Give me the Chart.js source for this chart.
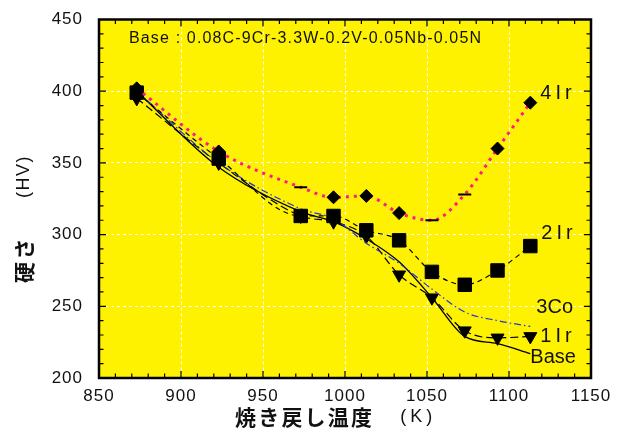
<!DOCTYPE html>
<html>
<head>
  <meta charset="utf-8">
  <title>焼き戻し温度と硬さ</title>
  <script src="https://cdn.jsdelivr.net/npm/chart.js"></script>
  <style>
    body { margin: 0; background: #fff; }
    canvas { display: block; }
  </style>
</head>
<body>
  <canvas id="hvChart" width="626" height="432"></canvas>

  <script>
    // tempering temperature (K)
    const temps = [873, 923, 973, 993, 1013, 1033, 1053, 1073, 1093, 1113];

    // hardness (HV)
    const hv4Ir  = [402, 358, 333, 326, 327, 315, 310, 328, 360, 392];
    const hv2Ir  = [399, 353, 313, 313, 303, 296, 274, 265, 275, 292];
    const hv3Co  = [400, 350, 318, 311, 294, 280, 262, 246, 240, 236];
    const hv1Ir  = [395, 350, 313, 309, 299, 272, 256, 233, 228, 229];
    const hvBase = [400, 347, 316, 309, 297, 281, 256, 229, 224, 217];

    const xTicks = [850, 900, 950, 1000, 1050, 1100, 1150];
    const yTicks = [200, 250, 300, 350, 400, 450];

    const seriesNames = ['4Ir', '2Ir', '3Co', '1Ir', 'Base'];
    const note = 'Base : 0.08C-9Cr-3.3W-0.2V-0.05Nb-0.05N';
    const xTitle = ['焼き戻し温度', '(K)'];
    const yTitle = ['硬さ', '(HV)'];

    const pts = vals => temps.map((t, i) => ({ x: t, y: vals[i] }));

    const SANS = "'Liberation Sans', Arial, sans-serif";
    const CJK = "'Noto Sans CJK JP', sans-serif";

    function spaced(ctx, str, x, y, font, spacing) {
      ctx.font = font;
      ctx.letterSpacing = spacing + 'px';
      ctx.fillText(str, x, y);
      return ctx.measureText(str).width;
    }

    const decor = {
      id: 'decor',
      beforeDraw(chart) {
        const { ctx, chartArea: a } = chart;
        ctx.save();
        ctx.fillStyle = '#fff200';
        ctx.fillRect(a.left, a.top, a.right - a.left, a.bottom - a.top);
        ctx.restore();
        ctx.letterSpacing = '1px'; // tick labels are a bit spread out
      },
      afterDraw(chart) {
        const { ctx, chartArea: a, scales: { x, y } } = chart;
        ctx.letterSpacing = '0px';
        ctx.save();

        // inward ticks on all four sides
        ctx.strokeStyle = '#000';
        ctx.lineWidth = 1.2;
        ctx.beginPath();
        for (let v = xTicks[0]; v <= xTicks[xTicks.length - 1]; v += 10) {
          const px = x.getPixelForValue(v);
          const len = v % 50 === 0 ? 7 : 4.5;
          ctx.moveTo(px, a.bottom); ctx.lineTo(px, a.bottom - len);
          ctx.moveTo(px, a.top); ctx.lineTo(px, a.top + len);
        }
        for (let v = yTicks[0]; v <= yTicks[yTicks.length - 1]; v += 10) {
          const py = y.getPixelForValue(v);
          const len = v % 50 === 0 ? 7 : 4.5;
          ctx.moveTo(a.left, py); ctx.lineTo(a.left + len, py);
          ctx.moveTo(a.right, py); ctx.lineTo(a.right - len, py);
        }
        ctx.stroke();

        ctx.lineWidth = 2.5;
        ctx.strokeRect(a.left, a.top, a.right - a.left, a.bottom - a.top);

        ctx.fillStyle = '#111';
        ctx.textBaseline = 'middle';
        ctx.textAlign = 'left';
        spaced(ctx, note, a.left + 30, a.top + 19, '16px ' + SANS, 1.15);

        // series names next to the last point of each curve
        const offs = [[10, -9, 4], [11, -13, 4], [6, -19, 0], [10, 0, 4], [0, 4, 0]];
        seriesNames.forEach((name, i) => {
          const meta = chart.getDatasetMeta(i);
          const p = meta.data[meta.data.length - 1];
          spaced(ctx, name, p.x + offs[i][0], p.y + offs[i][1], '20px ' + SANS, offs[i][2]);
        });

        // x title
        let w = spaced(ctx, xTitle[0], a.left + 136, 417, 'bold 21px ' + CJK, 2.2);
        spaced(ctx, xTitle[1], a.left + 136 + w + 26, 417, '18px ' + SANS, 4);

        // y title
        ctx.translate(24, 283);
        ctx.rotate(-Math.PI / 2);
        w = spaced(ctx, yTitle[0], 0, 0, 'bold 21px ' + CJK, 2.5);
        spaced(ctx, yTitle[1], w + 38, 0, '18px ' + SANS, 1.5);

        ctx.restore();
        ctx.letterSpacing = '0px';
      }
    };

    const line = (vals, color, width, dash) => ({
      data: pts(vals),
      borderColor: color,
      borderWidth: width,
      borderDash: dash,
      cubicInterpolationMode: 'monotone',
      pointRadius: 0,
      pointBackgroundColor: '#000',
      pointBorderColor: '#000'
    });

    const ds4Ir = line(hv4Ir, '#ff1a8c', 3, [3, 5]);
    ds4Ir.pointStyle = ['rectRot', 'rectRot', 'line', 'rectRot', 'rectRot', 'rectRot', 'line', 'line', 'rectRot', 'rectRot'];
    ds4Ir.pointRadius = 6.5;
    ds4Ir.pointBorderWidth = ds4Ir.pointStyle.map(s => s === 'line' ? 2 : 1);

    const ds2Ir = line(hv2Ir, '#000', 1.2, [5, 4]);
    ds2Ir.pointStyle = 'rect';
    ds2Ir.pointRadius = 9.5;
    ds2Ir.pointBorderWidth = 1;

    const ds3Co = line(hv3Co, '#2233dd', 1.2, [7, 3, 1.5, 3]);

    const ds1Ir = line(hv1Ir, '#000', 1.2, [8, 4]);
    ds1Ir.pointStyle = 'triangle';
    ds1Ir.pointRotation = 180;
    ds1Ir.pointRadius = 7.5;
    ds1Ir.pointBorderWidth = 1;

    const dsBase = line(hvBase, '#000', 1.3, []);

    new Chart(document.getElementById('hvChart'), {
      type: 'line',
      data: { datasets: [ds4Ir, ds2Ir, ds3Co, ds1Ir, dsBase] },
      options: {
        responsive: false,
        animation: false,
        layout: { padding: { top: 19.5, right: 35, left: 0, bottom: 0 } },
        plugins: { legend: { display: false }, tooltip: { enabled: false } },
        scales: {
          x: {
            type: 'linear',
            min: xTicks[0],
            max: xTicks[xTicks.length - 1],
            afterBuildTicks: s => { s.ticks = xTicks.map(v => ({ value: v })); },
            afterFit: s => { s.height = 54; s.paddingLeft = 0; s.paddingRight = 0; },
            grid: { color: '#fff', lineWidth: 1, drawTicks: false },
            border: { display: false, dash: [3, 3] },
            ticks: { padding: 8, color: '#111', maxRotation: 0, autoSkip: false,
                     callback: v => String(v), font: { family: SANS, size: 17 } }
          },
          y: {
            min: yTicks[0],
            max: yTicks[yTicks.length - 1],
            afterBuildTicks: s => { s.ticks = yTicks.map(v => ({ value: v })); },
            afterFit: s => { s.width = 99; s.paddingTop = 0; s.paddingBottom = 0; },
            grid: { color: '#fff', lineWidth: 1, drawTicks: false },
            border: { display: false, dash: [3, 3] },
            ticks: { padding: 16, color: '#111', callback: v => String(v), font: { family: SANS, size: 17 } }
          }
        }
      },
      plugins: [decor]
    });
  </script>
</body>
</html>
